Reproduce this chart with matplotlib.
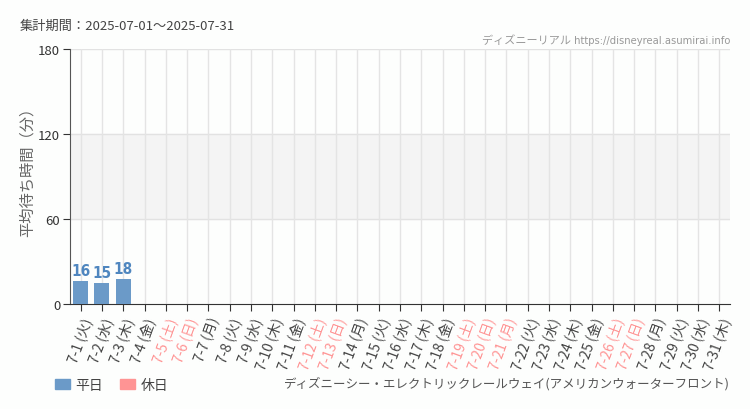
import matplotlib.pyplot as plt
from matplotlib.patches import Patch

plt.rcParams['font.family'] = ['Noto Sans CJK JP', 'DejaVu Sans']

# データ
days = list(range(1, 32))
weekdays = ['火', '水', '木', '金', '土', '日', '月']
holidays = [5, 6, 12, 13, 19, 20, 21, 26, 27]
wait_values = [16, 15, 18]  # 7-1, 7-2, 7-3 のみ

labels = [f"7-{d} ({weekdays[(d - 1) % 7]})" for d in days]

COLOR_WEEKDAY = '#6b9ac8'
COLOR_HOLIDAY = '#ff9494'
COLOR_TEXT = '#444444'
NARROW = ['DejaVu Sans', 'Noto Sans CJK JP']

fig = plt.figure(figsize=(7.5, 4.1), dpi=100)
fig.patch.set_facecolor('#fdfefd')
ax = fig.add_axes([70 / 750, 1 - 305 / 410, 660 / 750, 255 / 410])
ax.set_facecolor('#fdfefd')

x = list(range(len(days)))
ax.set_xlim(-0.5, len(days) - 0.5)
ax.set_ylim(0, 180)

# 背景の帯とグリッド
ax.axhspan(60, 120, color='#f4f4f4', zorder=0)
for yv in [60, 120, 180]:
    ax.axhline(yv, color='#e2e2e2', lw=1, zorder=1)
for xi in x:
    ax.axvline(xi, color='#e4e4e4', lw=1, zorder=1)

bars = ax.bar(x[:len(wait_values)], wait_values, width=0.7,
              color=COLOR_WEEKDAY, zorder=3)
for xi, v in zip(x, wait_values):
    ax.text(xi, v + 2, str(v), ha='center', va='bottom', color='#4f86bf',
            fontsize=11, fontweight='bold', family=NARROW,
            stretch='condensed')

ax.set_yticks([0, 60, 120, 180])
ax.set_yticklabels(['0', '60', '120', '180'])
ax.tick_params(axis='y', length=5, color='#333333', labelsize=9.5,
               labelcolor='#333333', pad=2)
ax.set_xticks(x)
ax.set_xticklabels(labels, rotation=70, ha='right', va='top',
                   rotation_mode='anchor', fontsize=10)
ax.tick_params(axis='x', length=5, color='#333333', pad=3)
for d, t in zip(days, ax.get_xticklabels()):
    t.set_color(COLOR_HOLIDAY if d in holidays else COLOR_TEXT)

for s in ['top', 'right']:
    ax.spines[s].set_visible(False)
ax.spines['left'].set_color('#555555')
ax.spines['bottom'].set_color('#333333')

ax.set_ylabel('平均待ち時間（分）', fontsize=11, color='#666666')
ax.yaxis.set_label_coords(-34 / 660, 0.537)

fig.text(20 / 750, 1 - 26 / 410, '集計期間：2025-07-01～2025-07-31',
         fontsize=9.5, color='#444444', va='center')
fig.text(730 / 750, 1 - 40 / 410,
         'ディズニーリアル https://disneyreal.asumirai.info',
         fontsize=8, color='#999999', ha='right', va='center',
         family=NARROW, stretch='condensed')
fig.text(730 / 750, 1 - 384 / 410,
         'ディズニーシー・エレクトリックレールウェイ(アメリカンウォーターフロント)',
         fontsize=9, color='#555555', ha='right', va='center')

handles = [Patch(color=COLOR_WEEKDAY, label='平日'),
           Patch(color=COLOR_HOLIDAY, label='休日')]
fig.legend(handles=handles, loc='center left',
           bbox_to_anchor=(42 / 750, 1 - 386 / 410), ncol=2, frameon=False,
           fontsize=10, handlelength=1.1, handleheight=0.8,
           columnspacing=1.2, handletextpad=0.4, labelcolor='#444444')

fig.savefig('out.png', dpi=100, facecolor=fig.get_facecolor())
